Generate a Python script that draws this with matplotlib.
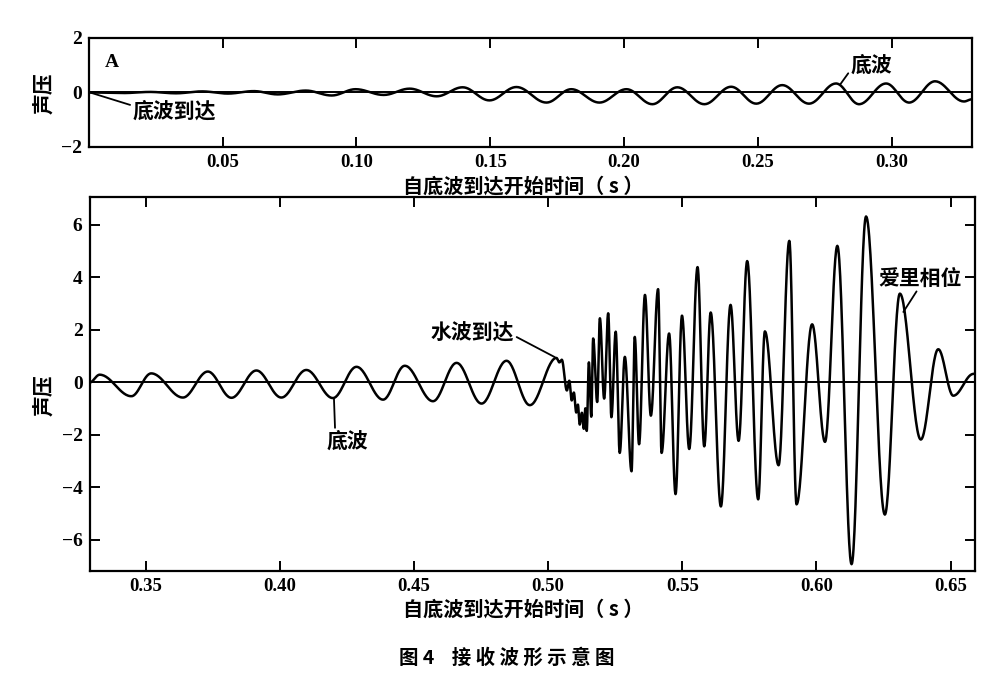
import numpy as np
import matplotlib
matplotlib.use("Agg")
import matplotlib.pyplot as plt

# ---------------- data ----------------
# Panel A: extrema (time in s, pressure) of the received waveform, 0 - 0.33 s
top_time = [0.0, 0.0132, 0.0229, 0.0326, 0.0423, 0.0520, 0.0617, 0.0706, 0.0811,
            0.0908, 0.0997, 0.1102, 0.1199, 0.1300, 0.1397, 0.1497, 0.1598, 0.1710,
            0.1803, 0.1908, 0.2009, 0.2106, 0.2199, 0.2300, 0.2400, 0.2494, 0.2591,
            0.2691, 0.2792, 0.2878, 0.2979, 0.3065, 0.3162, 0.3270, 0.3300]
top_pressure = [0.0, -0.02, 0.02, -0.03, 0.04, -0.04, 0.05, -0.07, 0.07,
                -0.11, 0.12, -0.09, 0.14, -0.14, 0.19, -0.29, 0.20, -0.37,
                0.12, -0.37, 0.12, -0.43, 0.19, -0.43, 0.21, -0.41, 0.27,
                -0.41, 0.33, -0.43, 0.33, -0.37, 0.41, -0.33, -0.25]

# Lower panel: extrema (time in s, pressure), 0.33 - 0.66 s
bottom_time = [0.3291, 0.3329, 0.3447, 0.3521, 0.3639, 0.3732, 0.3820, 0.3913, 0.4006,
               0.4099, 0.4198, 0.4286, 0.4385, 0.4466, 0.4571, 0.4659, 0.4752, 0.4845,
               0.4932, 0.5031, 0.5042, 0.5051, 0.5070, 0.5079, 0.5088, 0.5096, 0.5105,
               0.5111, 0.5118, 0.5126, 0.5133, 0.5139, 0.5144, 0.5152, 0.5161, 0.5168,
               0.5183, 0.5193, 0.5209, 0.5224, 0.5236, 0.5252, 0.5267, 0.5286, 0.5311,
               0.5323, 0.5339, 0.5361, 0.5383, 0.5410, 0.5423, 0.5451, 0.5475, 0.5499,
               0.5526, 0.5557, 0.5582, 0.5606, 0.5644, 0.5680, 0.5710, 0.5742, 0.5783,
               0.5808, 0.5859, 0.5899, 0.5926, 0.5984, 0.6032, 0.6078, 0.6131, 0.6185,
               0.6255, 0.6311, 0.6389, 0.6454, 0.6510, 0.6585, 0.6591]
bottom_pressure = [-0.02, 0.28, -0.54, 0.33, -0.59, 0.40, -0.60, 0.44, -0.59,
                   0.46, -0.61, 0.58, -0.67, 0.62, -0.73, 0.73, -0.82, 0.81,
                   -0.88, 0.92, 0.75, 0.85, -0.32, 0.05, -0.70, -0.40, -1.16,
                   -0.86, -1.62, -1.17, -1.78, -1.00, -1.86, 0.75, -1.32, 1.66,
                   -0.76, 2.43, -0.63, 2.62, -1.34, 1.92, -2.70, 0.96, -3.40,
                   1.72, -2.37, 3.32, -1.28, 3.54, -2.70, 1.85, -4.27, 2.53,
                   -2.55, 4.38, -2.45, 2.65, -4.74, 2.94, -2.24, 4.61, -4.47,
                   1.93, -3.17, 5.38, -4.66, 2.20, -2.28, 5.19, -6.94, 6.31,
                   -5.05, 3.37, -2.19, 1.25, -0.52, 0.31, 0.32]

top_xticks = [0.05, 0.10, 0.15, 0.20, 0.25, 0.30]
top_xticklabels = ["0.05", "0.10", "0.15", "0.20", "0.25", "0.30"]
bottom_xticks = [0.35, 0.40, 0.45, 0.50, 0.55, 0.60, 0.65]
bottom_xticklabels = ["0.35", "0.40", "0.45", "0.50", "0.55", "0.60", "0.65"]
top_yticks = [-2, 0, 2]
top_yticklabels = ["\u22122", "0", "2"]
bottom_yticks = [-6, -4, -2, 0, 2, 4, 6]
bottom_yticklabels = ["\u22126", "\u22124", "\u22122", "0", "2", "4", "6"]

ylabel_text = "声压"
xlabel_text = "自底波到达开始时间（ s ）"
caption_text = "图 4    接 收 波 形 示 意 图"


# smooth trace between successive extrema (half-cosine segments)
def trace(t, v, n=30):
    tt, vv = [t[0]], [v[0]]
    u = np.linspace(0, 1, n + 1)[1:]
    for i in range(len(t) - 1):
        tt.extend(t[i] + (t[i + 1] - t[i]) * u)
        vv.extend(v[i] + (v[i + 1] - v[i]) * (1 - np.cos(np.pi * u)) / 2)
    return np.array(tt), np.array(vv)


CJK = ["Noto Sans CJK SC", "DejaVu Sans"]
SERIF = ["Liberation Serif", "DejaVu Serif"]

fig = plt.figure(figsize=(10, 6.78), dpi=100)
ax1 = fig.add_axes([0.0887, 0.7832, 0.8833, 0.1608])
ax2 = fig.add_axes([0.0895, 0.1578, 0.8855, 0.5516])

lw_wave = 1.8
for ax in (ax1, ax2):
    for s in ax.spines.values():
        s.set_linewidth(1.6)
    ax.axhline(0, color="black", lw=1.4, zorder=1)
    ax.tick_params(direction="in", length=7, width=1.4, top=True, pad=5)

# ---- top panel
t1, v1 = trace(top_time, top_pressure)
ax1.plot(t1, v1, color="black", lw=lw_wave, zorder=2)
ax1.set_xlim(0, 0.33)
ax1.set_ylim(-2, 2)
ax1.set_xticks(top_xticks)
ax1.set_xticklabels(top_xticklabels, family=SERIF, weight="bold", fontsize=13.5)
ax1.set_yticks(top_yticks)
ax1.set_yticklabels(top_yticklabels, family=SERIF, weight="bold", fontsize=14)
ax1.tick_params(axis="y", right=False)
ax1.text(0.0087, 1.1, "A", family=SERIF, weight="bold", fontsize=14,
         ha="center", va="center")
ax1.annotate("底波到达", xy=(0.0005, 0.0), xytext=(0.0165, -0.68),
             family=CJK, weight="bold", fontsize=15, ha="left", va="center",
             arrowprops=dict(arrowstyle="-", lw=1.3, color="black",
                             shrinkA=0, shrinkB=0, relpos=(0.0, 0.75)))
ax1.annotate("底波", xy=(0.2808, 0.30), xytext=(0.2848, 1.0),
             family=CJK, weight="bold", fontsize=15, ha="left", va="center",
             arrowprops=dict(arrowstyle="-", lw=1.3, color="black",
                             shrinkA=0, shrinkB=0, relpos=(0.0, 0.3)))

# ---- bottom panel
t2, v2 = trace(bottom_time, bottom_pressure)
ax2.plot(t2, v2, color="black", lw=lw_wave, zorder=2)
ax2.set_xlim(0.3291, 0.6591)
ax2.set_ylim(-7.2, 7.05)
ax2.set_xticks(bottom_xticks)
ax2.set_xticklabels(bottom_xticklabels, family=SERIF, weight="bold", fontsize=13.5)
ax2.set_yticks(bottom_yticks)
ax2.set_yticklabels(bottom_yticklabels, family=SERIF, weight="bold", fontsize=14)
ax2.tick_params(axis="y", right=True)
ax2.annotate("水波到达", xy=(0.5025, 0.95), xytext=(0.4717, 1.85),
             family=CJK, weight="bold", fontsize=15, ha="center", va="center",
             arrowprops=dict(arrowstyle="-", lw=1.3, color="black",
                             shrinkA=0, shrinkB=0, relpos=(1.0, 0.4)))
ax2.annotate("底波", xy=(0.4202, -0.62), xytext=(0.4253, -2.25),
             family=CJK, weight="bold", fontsize=15, ha="center", va="center",
             arrowprops=dict(arrowstyle="-", lw=1.3, color="black",
                             shrinkA=0, shrinkB=0, relpos=(0.2, 1.0)))
ax2.annotate("爱里相位", xy=(0.6324, 2.67), xytext=(0.6386, 3.96),
             family=CJK, weight="bold", fontsize=15, ha="center", va="center",
             arrowprops=dict(arrowstyle="-", lw=1.3, color="black",
                             shrinkA=0, shrinkB=0, relpos=(0.48, 0.0)))

# ---- labels
fig.text(0.045, 1 - 93 / 678, ylabel_text, family=CJK, weight="bold",
         fontsize=15, rotation=90, ha="center", va="center")
fig.text(0.045, 1 - 395 / 678, ylabel_text, family=CJK, weight="bold",
         fontsize=15, rotation=90, ha="center", va="center")
fig.text(0.523, 1 - 186 / 678, xlabel_text, family=CJK, weight="bold",
         fontsize=14.5, ha="center", va="center")
fig.text(0.523, 1 - 609 / 678, xlabel_text, family=CJK, weight="bold",
         fontsize=14.5, ha="center", va="center")
fig.text(0.507, 1 - 658 / 678, caption_text, family=CJK, weight="bold",
         fontsize=14, ha="center", va="center")

fig.savefig("out.png", dpi=100)
